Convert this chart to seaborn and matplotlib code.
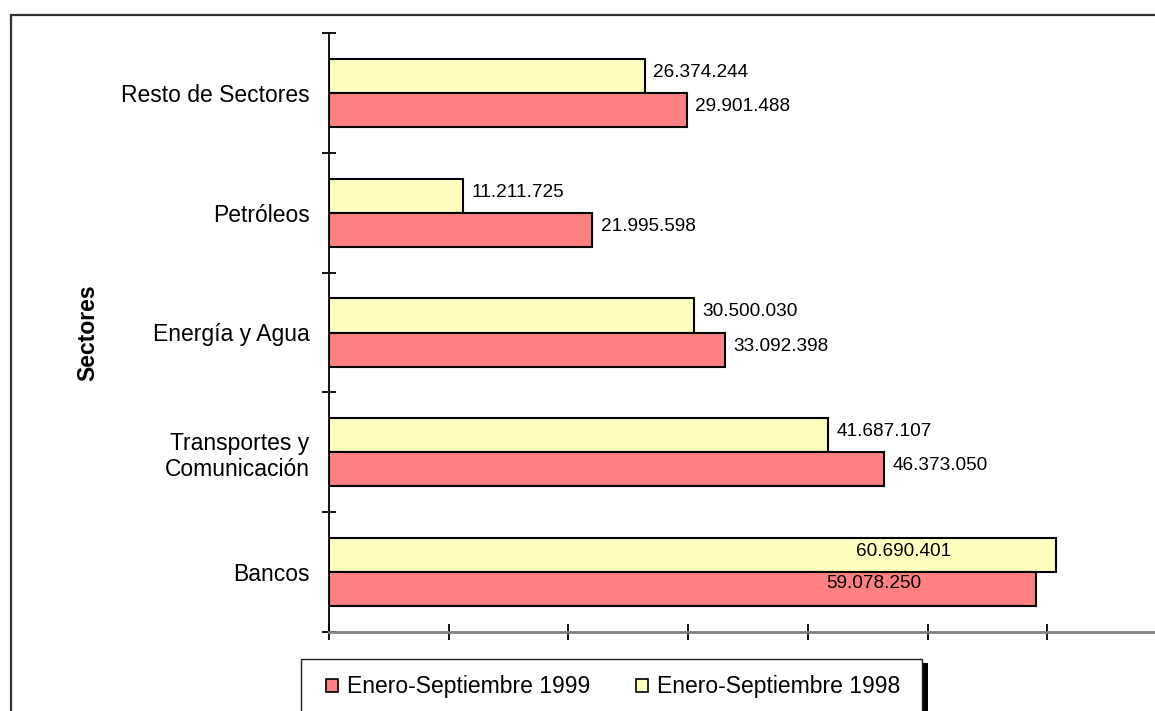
import matplotlib
matplotlib.use("Agg")
import matplotlib.pyplot as plt
from matplotlib.patches import Rectangle, Patch
import seaborn as sns
import pandas as pd
import numpy as np

# ---- data ----
sectors = ["Resto de Sectores", "Petróleos", "Energía y Agua",
           "Transportes y\nComunicación", "Bancos"]
v1998 = [26374244, 11211725, 30500030, 41687107, 60690401]
v1999 = [29901488, 21995598, 33092398, 46373050, 59078250]
series = ["Enero-Septiembre 1998", "Enero-Septiembre 1999"]
colors = {"Enero-Septiembre 1998": "#FFFFC0", "Enero-Septiembre 1999": "#FF8080"}
ylabel = "Sectores"

df = pd.DataFrame({
    "Sector": sectors * 2,
    "Valor": v1998 + v1999,
    "Serie": [series[0]] * len(sectors) + [series[1]] * len(sectors),
})

sns.set_style("white")
plt.rcParams["font.family"] = ["Liberation Sans", "DejaVu Sans"]
plt.rcParams["text.color"] = "black"
plt.rcParams["axes.labelcolor"] = "black"
plt.rcParams["xtick.color"] = "black"
plt.rcParams["ytick.color"] = "black"

W, H = 1155, 711
fig = plt.figure(figsize=(W / 100, H / 100), dpi=100)

def fx(px):
    return px / W

def fy(py):
    return 1 - py / H

ax_left, ax_right, ax_top, ax_bottom = 329, 1167, 33, 632
ax = fig.add_axes([fx(ax_left), fy(ax_bottom), fx(ax_right - ax_left), (ax_bottom - ax_top) / H])

sns.barplot(data=df, x="Valor", y="Sector", hue="Serie", hue_order=series,
            order=sectors, palette=colors, orient="h", width=0.57,
            edgecolor="black", linewidth=1.5, saturation=1, legend=False,
            errorbar=None, ax=ax)

ax.set_xlim(0, 70_000_000)
ax.set_ylim(len(sectors) - 0.5, -0.5)

# x axis: ticks without labels
ax.set_xticks(np.arange(0, 70_000_001, 10_000_000))
ax.set_xticklabels([])
ax.tick_params(axis="x", which="major", direction="inout", length=11, width=1.3,
               color="black", bottom=True)

# y axis: labels at centres, tick marks at boundaries
ax.set_yticks(range(len(sectors)))
ax.set_yticklabels(sectors, fontsize=16.5, color="black")
ax.set_yticks(np.arange(-0.5, len(sectors), 1.0), minor=True)
ax.tick_params(axis="y", which="major", length=0, pad=14, labelcolor="black")
ax.tick_params(axis="y", which="minor", direction="inout", length=10, width=1.3,
               color="black", left=True)

for s in ["top", "right"]:
    ax.spines[s].set_visible(False)
ax.spines["left"].set_color("black")
ax.spines["left"].set_linewidth(1.3)
ax.spines["bottom"].set_color("#808080")
ax.spines["bottom"].set_linewidth(2)
ax.set_xlabel("")
ax.set_ylabel(ylabel, fontsize=16.5, fontweight="bold", color="black")
ax.yaxis.set_label_coords((99 - ax_left) / (ax_right - ax_left), 0.5)

# value labels
def fmt(v):
    return f"{int(round(v)):,}".replace(",", ".")

inside_offsets = {series[0]: -144, series[1]: -151}
for cont, name in zip(ax.containers, series):
    for i, bar in enumerate(cont):
        w = bar.get_width()
        yc = bar.get_y() + bar.get_height() / 2
        if sectors[i] == "Bancos":
            dx = inside_offsets[name]
            dy = 2.5 if name == series[0] else 4.0
        else:
            dx = 6
            dy = 2.5
        ax.annotate(fmt(w), xy=(w, yc), xytext=(dx, dy), textcoords="offset points",
                    ha="left", va="center", fontsize=13.7, color="black",
                    annotation_clip=False)

# outer chart frame
fig.patches.append(Rectangle((fx(11), fy(760)), fx(1200), (760 - 15) / H,
                             transform=fig.transFigure, fill=False,
                             edgecolor="#333333", linewidth=1.6, zorder=0))

# legend box with shadow
fig.patches.append(Rectangle((fx(922), fy(760)), fx(6), (760 - 663) / H,
                             transform=fig.transFigure, facecolor="black",
                             edgecolor="none", zorder=1))
fig.patches.append(Rectangle((fx(301), fy(760)), fx(621), (760 - 659) / H,
                             transform=fig.transFigure, facecolor="white",
                             edgecolor="#222222", linewidth=1.0, zorder=2))

handles = [Patch(facecolor=colors[series[1]], edgecolor="black", linewidth=1.2,
                 label=series[1]),
           Patch(facecolor=colors[series[0]], edgecolor="black", linewidth=1.2,
                 label=series[0])]
leg = fig.legend(handles=handles, loc="center left",
                 bbox_to_anchor=(fx(326), fy(687)), ncol=2, frameon=False,
                 fontsize=16.5, handlelength=0.52, handleheight=0.52,
                 handletextpad=0.4, columnspacing=2.0, borderpad=0,
                 borderaxespad=0, labelcolor="black")
leg.set_zorder(5)

fig.savefig("out.png", dpi=100)
